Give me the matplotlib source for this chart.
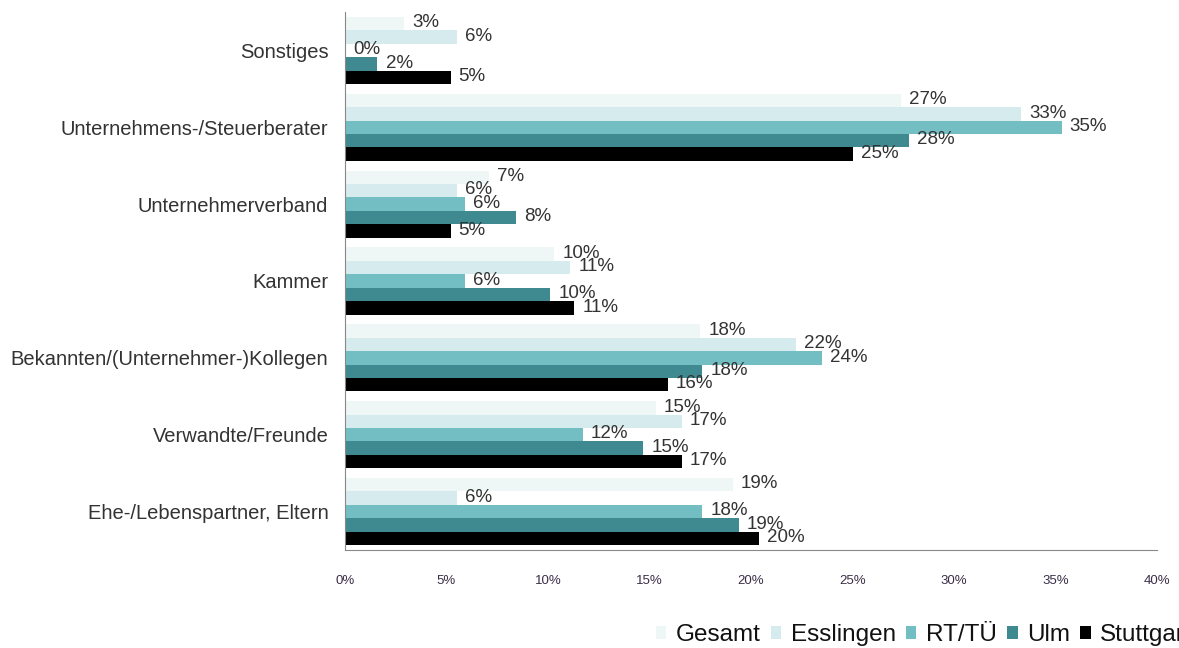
import numpy as np
import matplotlib
matplotlib.use("Agg")
import matplotlib.pyplot as plt
from matplotlib.ticker import FuncFormatter

plt.rcParams["font.family"] = ["Liberation Sans", "DejaVu Sans"]

# categories, top to bottom as in the chart
categories = [
    "Sonstiges",
    "Unternehmens-/Steuerberater",
    "Unternehmerverband",
    "Kammer",
    "Bekannten/(Unternehmer-)Kollegen",
    "Verwandte/Freunde",
    "Ehe-/Lebenspartner, Eltern",
]
series = ["Gesamt", "Esslingen", "RT/TÜ", "Ulm", "Stuttgart"]

gesamt    = [2.9, 27.4, 7.1, 10.3, 17.5, 15.3, 19.1]
esslingen = [5.5, 33.3, 5.5, 11.1, 22.2, 16.6, 5.5]
rt_tue    = [0.0, 35.3, 5.9, 5.9, 23.5, 11.7, 17.6]
ulm       = [1.6, 27.8, 8.4, 10.1, 17.6, 14.7, 19.4]
stuttgart = [5.2, 25.0, 5.2, 11.3, 15.9, 16.6, 20.4]
values = [gesamt, esslingen, rt_tue, ulm, stuttgart]

colors = ["#eef7f6", "#d6ebee", "#72bec3", "#3e8a90", "#000000"]
text_col = "#333333"

fig = plt.figure(figsize=(11.79, 6.48), dpi=100)
ax = fig.add_axes([345 / 1179, 1 - 550 / 648, (1157 - 345) / 1179, (550 - 12) / 648])

n = len(categories)
bh = 0.175
ypos = np.arange(n)[::-1]  # first category on top
for i, (name, vals, col) in enumerate(zip(series, values, colors)):
    y = ypos + (2 - i) * bh
    ax.barh(y, vals, height=bh, color=col, label=name, edgecolor="none")
    for yy, v in zip(y, vals):
        ax.text(v + 0.4, yy + 0.01, f"{v:.0f}%", va="center", ha="left",
                fontsize=13.5, color=text_col)

ax.set_xlim(0, 40)
ax.set_ylim(-0.5, n - 0.5)
ax.set_xticks(np.arange(0, 41, 5))
ax.xaxis.set_major_formatter(FuncFormatter(lambda x, p: f"{x:.0f}%"))
ax.set_yticks(ypos)
ax.set_yticklabels(categories, fontsize=14.5, color=text_col)
ax.tick_params(axis="x", length=0, pad=18, labelsize=9.5, labelcolor="#3a2e48")
ax.tick_params(axis="y", length=0, pad=12)
for s in ("top", "right"):
    ax.spines[s].set_visible(False)
for s in ("left", "bottom"):
    ax.spines[s].set_color("#888888")

# legend runs off the right edge, as in the original
ax.legend(loc="center left", bbox_to_anchor=(656 / 1179, 13 / 648),
          bbox_transform=fig.transFigure, ncol=5, frameon=False,
          borderaxespad=0, borderpad=0,
          fontsize=17.5, handlelength=0.42, handleheight=0.42, handletextpad=0.4,
          columnspacing=0.42, labelcolor="#111111")

fig.savefig("out.png", dpi=100)
